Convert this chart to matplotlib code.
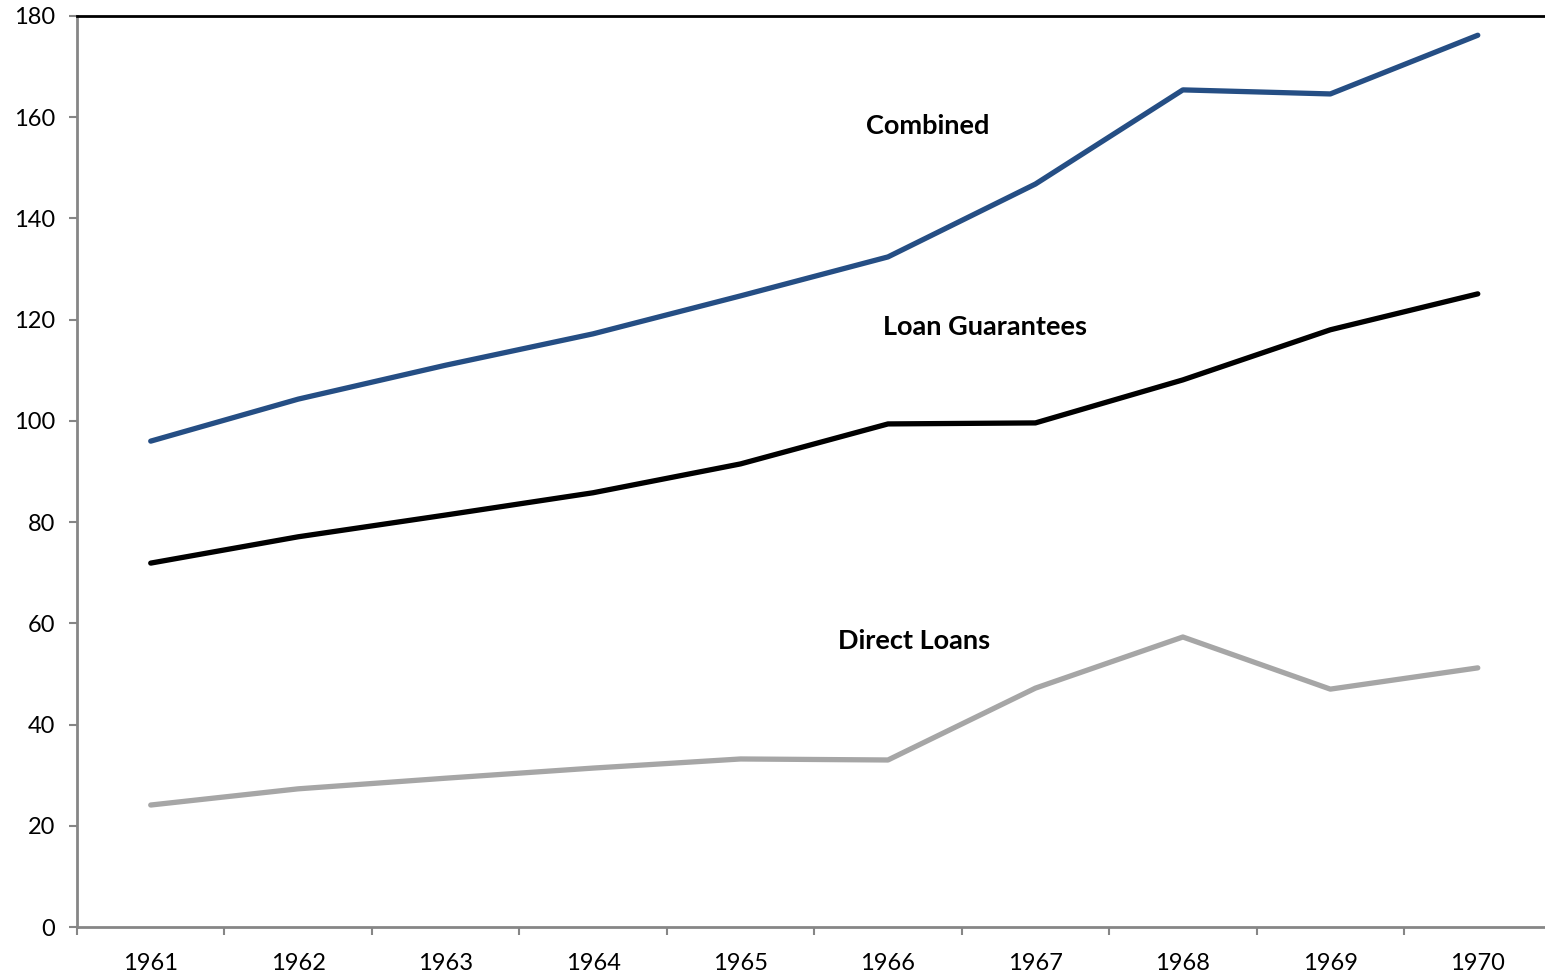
import matplotlib
matplotlib.use("Agg")
import matplotlib.pyplot as plt
import numpy as np

years = ["1961", "1962", "1963", "1964", "1965", "1966", "1967", "1968", "1969", "1970"]
combined = [96.0, 104.3, 111.0, 117.2, 124.7, 132.4, 146.8, 165.4, 164.6, 176.2]
loan_guarantees = [71.9, 77.1, 81.4, 85.8, 91.5, 99.4, 99.6, 108.1, 118.0, 125.1]
direct_loans = [24.1, 27.3, 29.4, 31.4, 33.2, 33.0, 47.2, 57.3, 47.0, 51.2]

plt.rcParams["font.family"] = ["Lato", "DejaVu Sans"]

W, H = 1545, 976
fig = plt.figure(figsize=(W / 100, H / 100), dpi=100)
left, right, top, bottom = 77, 1551.5, 16, 927
ax = fig.add_axes([left / W, 1 - bottom / H, (right - left) / W, (bottom - top) / H])

x = np.arange(len(years))
ax.plot(x, combined, color="#254E84", lw=3.8, solid_capstyle="round", solid_joinstyle="round")
ax.plot(x, loan_guarantees, color="#000000", lw=3.8, solid_capstyle="round", solid_joinstyle="round")
ax.plot(x, direct_loans, color="#A6A6A6", lw=3.8, solid_capstyle="round", solid_joinstyle="round")

ax.text(5.27, 158.3, "Combined", ha="center", va="center", fontsize=19.5, fontweight="bold")
ax.text(5.66, 118.6, "Loan Guarantees", ha="center", va="center", fontsize=19.5, fontweight="bold")
ax.text(5.18, 56.6, "Direct Loans", ha="center", va="center", fontsize=19.5, fontweight="bold")

ax.set_xlim(-0.5, len(years) - 0.5)
ax.set_ylim(0, 180)
ax.set_yticks(range(0, 181, 20))
ax.set_xticks(x)
ax.set_xticklabels(years)
ax.set_xticks(np.arange(-0.5, len(years), 1.0), minor=True)

ax.tick_params(axis="x", which="major", length=0, labelsize=17, pad=19)
ax.tick_params(axis="x", which="minor", length=6, width=1.5, color="#868686", direction="out")
ax.tick_params(axis="y", length=6, width=1.5, color="#868686", direction="out", labelsize=17, pad=10)

for side in ["left", "bottom"]:
    ax.spines[side].set_color("#868686")
    ax.spines[side].set_linewidth(2)
ax.spines["right"].set_visible(False)
ax.spines["top"].set_color("#000000")
ax.spines["top"].set_linewidth(2)

fig.savefig("out.png", dpi=100)
